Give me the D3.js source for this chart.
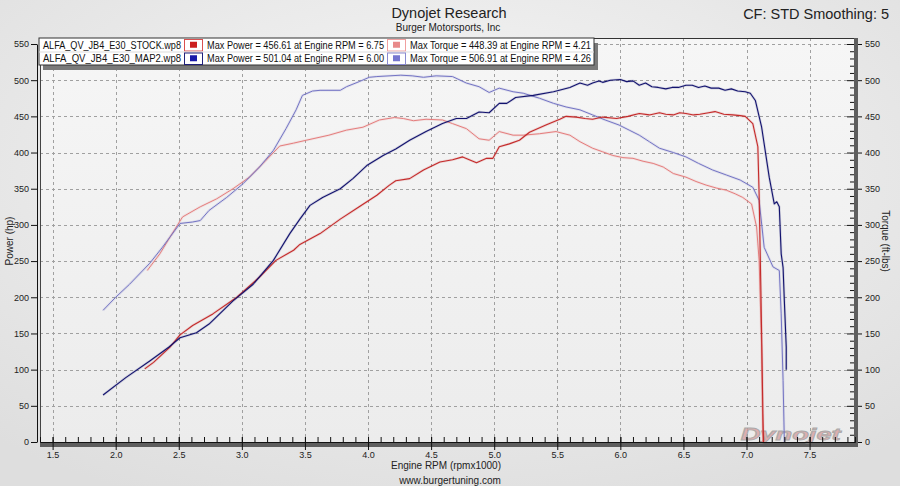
<!DOCTYPE html>
<html><head><meta charset="utf-8">
<script src="https://cdn.jsdelivr.net/npm/d3@7"></script>
<style>
html,body{margin:0;padding:0;background:#e8e8e8;}
svg{display:block;font-family:"Liberation Sans",Arial,sans-serif;}
</style></head>
<body>
<svg id="c" width="900" height="486"></svg>
<script>
// ---------- DATA ----------
const stockPowerRpm = [2.23,2.30,2.43,2.51,2.61,2.77,2.96,3.14,3.27,3.41,3.46,3.62,3.78,3.93,4.07,4.17,4.22,4.33,4.44,4.57,4.67,4.75,4.86,4.94,4.99,5.04,5.12,5.20,5.28,5.41,5.52,5.57,5.65,5.72,5.78,5.86,5.97,6.06,6.15,6.23,6.31,6.36,6.42,6.47,6.52,6.58,6.63,6.70,6.75,6.82,6.89,6.95,6.99,7.05,7.09,7.10,7.115,7.13,7.135];
const stockPower    = [101,110,131,148,161,177,200,228,251,265,273,288,308,325,341,355,361,364,376,387,390,394,386,392,392,408,412,417,428,438,446,450,449,447,446,449,447,450,454,452,455,453,452,455,454,452,453,455,456.6,453,452,451,450,440,408,343,200,39,0];

const map2PowerRpm = [1.90,2.08,2.27,2.42,2.51,2.64,2.74,2.93,3.09,3.25,3.38,3.46,3.54,3.64,3.78,3.88,3.99,4.12,4.22,4.33,4.46,4.59,4.70,4.78,4.88,4.96,5.04,5.10,5.17,5.31,5.47,5.60,5.68,5.74,5.78,5.83,5.86,5.92,6.00,6.05,6.10,6.15,6.20,6.25,6.30,6.36,6.41,6.46,6.52,6.57,6.62,6.67,6.72,6.78,6.83,6.88,6.93,6.99,7.03,7.07,7.12,7.18,7.22,7.24,7.26,7.275,7.29,7.30,7.315,7.315];
const map2Power    = [65,89,112,131,144,151,163,195,218,251,288,308,327,338,350,364,382,396,405,417,429,440,447,447,456,455,468,468,476,479,484,490,496,493,496,499,497,500,501,498,499,493,496,491,490,488,490,490,493,493,490,492,489,489,486,488,485,484,482,472,435,366,329,332,325,260,241,195,131,100];

const map2TorqueRpm = [1.90,2.00,2.11,2.27,2.37,2.51,2.61,2.67,2.74,2.88,3.01,3.14,3.25,3.35,3.43,3.48,3.56,3.62,3.78,3.83,3.93,4.01,4.07,4.26,4.35,4.44,4.54,4.67,4.78,4.88,4.96,5.04,5.15,5.23,5.36,5.47,5.57,5.68,5.78,5.88,5.99,6.07,6.15,6.23,6.31,6.42,6.52,6.62,6.73,6.84,6.95,7.05,7.10,7.14,7.21,7.26,7.275,7.29,7.30];
const map2Torque    = [182,200,218,247,269,302,304,306,320,338,357,380,403,433,459,479,485,486,486,491,498,504,505,506.9,506,504,506,505,496,491,483,489,484,482,475,468,463,459,452,445,438,431,424,415,406,400,394,385,376,369,362,352,334,269,242,237,177,85,0];

const stockTorqueRpm = [2.25,2.35,2.43,2.53,2.67,2.80,2.93,3.06,3.19,3.30,3.41,3.51,3.69,3.83,3.96,4.09,4.21,4.28,4.36,4.46,4.59,4.67,4.78,4.88,4.96,5.04,5.15,5.23,5.36,5.49,5.60,5.68,5.78,5.86,5.94,6.02,6.10,6.18,6.26,6.34,6.42,6.52,6.60,6.68,6.76,6.84,6.91,6.97,7.04,7.08,7.10,7.12,7.13];
const stockTorque    = [237,260,283,311,325,336,350,366,389,409,413,417,424,431,435,445,448.4,447,444,446,445,440,433,419,417,429,424,424,426,429,424,415,406,401,396,393,392,388,385,380,371,366,360,355,351,348,343,338,329,297,251,131,0];

const xMajorTicks = [1.5,2.0,2.5,3.0,3.5,4.0,4.5,5.0,5.5,6.0,6.5,7.0,7.5];
const yMajorTicks = [0,50,100,150,200,250,300,350,400,450,500,550];

const legendFiles  = ["ALFA_QV_JB4_E30_STOCK.wp8","ALFA_QV_JB4_E30_MAP2.wp8"];
const legendPower  = ["Max Power = 456.61 at Engine RPM = 6.75","Max Power = 501.04 at Engine RPM = 6.00"];
const legendTorque = ["Max Torque = 448.39 at Engine RPM = 4.21","Max Torque = 506.91 at Engine RPM = 4.26"];

// ---------- DRAW ----------
const svg = d3.select("#c");
const defs = svg.append("defs");
const bg = defs.append("radialGradient").attr("id","bg").attr("cx","50%").attr("cy","35%").attr("r","75%");
bg.append("stop").attr("offset","0%").attr("stop-color","#f7f7f7");
bg.append("stop").attr("offset","100%").attr("stop-color","#dedede");
const pg = defs.append("linearGradient").attr("id","pg").attr("x1",0).attr("y1",0).attr("x2",0).attr("y2",1);
pg.append("stop").attr("offset","0%").attr("stop-color","#f6f6f6");
pg.append("stop").attr("offset","100%").attr("stop-color","#ececec");

svg.append("rect").attr("width",900).attr("height",486).attr("fill","url(#bg)");

const L = 40, R = 855, T = 38, B = 442;
const x = d3.scaleLinear().domain([1.4, 7.86]).range([L, R]);
const y = d3.scaleLinear().domain([0, 550]).range([B, 44]);

// plot area
svg.append("rect").attr("x",L).attr("y",T).attr("width",R-L).attr("height",B-T).attr("fill","url(#pg)");

// grid
const grid = svg.append("g").attr("stroke","#a0a0a0").attr("stroke-width",1).attr("stroke-dasharray","3,3");
grid.selectAll("line.v").data(xMajorTicks).join("line")
  .attr("x1",d=>Math.round(x(d))+0.5).attr("x2",d=>Math.round(x(d))+0.5).attr("y1",T).attr("y2",B);
grid.selectAll("line.h").data(yMajorTicks.filter(d=>d>0)).join("line")
  .attr("y1",d=>Math.round(y(d))+0.5).attr("y2",d=>Math.round(y(d))+0.5).attr("x1",L).attr("x2",R);

// frame
svg.append("line").attr("x1",L).attr("x2",R+3).attr("y1",T+0.5).attr("y2",T+0.5).attr("stroke","#333");
svg.append("rect").attr("x",R-1).attr("y",T).attr("width",4).attr("height",B-T+5).attr("fill","#5e5e5e");
svg.append("rect").attr("x",L).attr("y",B).attr("width",R-L+3).attr("height",5).attr("fill","#5e5e5e");
svg.append("line").attr("x1",L+0.5).attr("x2",L+0.5).attr("y1",T).attr("y2",B).attr("stroke","#444");

// watermark
svg.append("text").attr("x",x(7.35)).attr("y",B-2).attr("text-anchor","middle")
  .attr("font-family","'Liberation Sans',sans-serif").attr("font-weight","bold").attr("font-style","italic")
  .attr("font-size",17).attr("textLength",100).attr("lengthAdjust","spacingAndGlyphs")
  .attr("fill","#d9a0a0").attr("stroke","#9a9a9a").attr("stroke-width",0.8).attr("opacity",0.8)
  .text("Dynojet");

// lines
const series = [
  {rpm: stockTorqueRpm, v: stockTorque, c:"#e57d7d", w:1},
  {rpm: map2TorqueRpm, v: map2Torque, c:"#7474c4", w:1},
  {rpm: stockPowerRpm, v: stockPower, c:"#c42a2a", w:1.1},
  {rpm: map2PowerRpm, v: map2Power, c:"#12126e", w:1.1}
];
const line = d3.line().x(d=>x(d[0])).y(d=>y(d[1]));
series.forEach(s=>{
  const pts = s.rpm.map((r,i)=>[r,s.v[i]]);
  svg.append("path").attr("d",line(pts)).attr("fill","none").attr("stroke",s.c).attr("stroke-opacity",0.15).attr("stroke-width",2.6).attr("stroke-linejoin","round");
  svg.append("path").attr("d",line(pts)).attr("fill","none").attr("stroke",s.c).attr("stroke-width",s.w).attr("stroke-linejoin","round");
});

// axes
const tickFont = g => g.selectAll("text").attr("font-size",9).attr("fill","#222").attr("font-family","'Liberation Sans',Arial,sans-serif");
const minorY = d3.range(0,551,10);
const minorX = d3.range(14,79,1).map(d=>d/10).filter(d=>d<=7.85);

const gl = svg.append("g").attr("transform","translate(37,0)");
gl.call(d3.axisLeft(y).tickValues(minorY).tickSize(4).tickFormat("").tickSizeOuter(0));
gl.call(d3.axisLeft(y).tickValues(yMajorTicks).tickSize(6).tickPadding(2).tickSizeOuter(0));
gl.call(tickFont); gl.selectAll("line,path").attr("stroke","#111");

const gr = svg.append("g").attr("transform","translate(858,0)");
gr.call(d3.axisRight(y).tickValues(yMajorTicks).tickSize(4).tickPadding(3).tickSizeOuter(0));
gr.select(".domain").remove();
gr.call(tickFont); gr.selectAll("line").attr("stroke","#111");
const gri = svg.append("g").attr("transform","translate(854,0)");
gri.call(d3.axisLeft(y).tickValues(minorY).tickSize(4).tickFormat("").tickSizeOuter(0));
gri.selectAll("line").attr("stroke","#111"); gri.select(".domain").remove();
gri.selectAll(".tick").filter(d=>d%50===0).select("line").attr("x2",-7);

const gb = svg.append("g").attr("transform","translate(0,"+B+")");
gb.call(d3.axisBottom(x).tickValues(xMajorTicks).tickSize(8).tickPadding(2).tickFormat(d3.format(".1f")));
gb.select(".domain").remove();
gb.selectAll(".tick line").attr("y1",-5).attr("stroke","#111");
gb.call(tickFont);
const gbm = svg.append("g").attr("transform","translate(0,"+B+")");
gbm.call(d3.axisTop(x).tickValues(minorX).tickSize(5).tickFormat(""));
gbm.select(".domain").attr("stroke","#111");
gbm.selectAll("line").attr("stroke","#111");

// axis titles
svg.append("text").attr("transform","translate(13,241) rotate(-90)").attr("text-anchor","middle")
  .attr("font-size",10).attr("fill","#222").text("Power (hp)");
svg.append("text").attr("transform","translate(882,241) rotate(90)").attr("text-anchor","middle")
  .attr("font-size",10).attr("fill","#222").text("Torque (ft-lbs)");
svg.append("text").attr("x",446).attr("y",469).attr("text-anchor","middle").attr("font-size",10).attr("fill","#222").text("Engine RPM (rpmx1000)");
svg.append("text").attr("x",450).attr("y",484).attr("text-anchor","middle").attr("font-size",10).attr("fill","#222").text("www.burgertuning.com");

// titles
svg.append("text").attr("x",449).attr("y",18).attr("text-anchor","middle").attr("font-size",14.5).attr("fill","#222").text("Dynojet Research");
svg.append("text").attr("x",448).attr("y",31).attr("text-anchor","middle").attr("font-size",10).attr("fill","#222").text("Burger Motorsports, Inc");
svg.append("text").attr("x",889).attr("y",19).attr("text-anchor","end").attr("font-size",14.5).attr("fill","#222").text("CF: STD Smoothing: 5");

// legend
const lg = svg.append("g");
const LX = 39, LY = 38, LW = 555, RH = 13.5;
lg.append("rect").attr("x",LX+4).attr("y",LY+5).attr("width",LW).attr("height",RH*2).attr("fill","#7a7a7a");
lg.append("rect").attr("x",LX).attr("y",LY).attr("width",LW).attr("height",RH*2).attr("fill","#fff").attr("stroke","#333");
const cells = [145, 19, 184, 19, 188];
const swFill = [["#cc2020","#e88a8a"],["#1818a8","#7676d0"]];
const swStroke = [["#d85050","#f0a0a0"],["#20207a","#8a8ad0"]];
[0,1].forEach(r=>{
  const yy = LY + r*RH;
  let cx = LX;
  const texts = [legendFiles[r], null, legendPower[r], null, legendTorque[r]];
  cells.forEach((w,i)=>{
    if(texts[i]!==null){
      lg.append("text").attr("x",cx+4).attr("y",yy+10.5).attr("font-size",10).attr("fill","#111")
        .attr("textLength",w-7).attr("lengthAdjust","spacingAndGlyphs").text(texts[i]);
    } else {
      const k = i===1?0:1;
      lg.append("rect").attr("x",cx+0.5).attr("y",yy+1.5).attr("width",w-1).attr("height",RH-2)
        .attr("fill","#fff").attr("stroke",swStroke[r][k]);
      lg.append("rect").attr("x",cx+w/2-3.5).attr("y",yy+RH/2-3).attr("width",7).attr("height",6).attr("fill",swFill[r][k]);
    }
    cx += w;
  });
  if(r===0) lg.append("line").attr("x1",LX).attr("x2",LX+LW).attr("y1",LY+RH+0.5).attr("y2",LY+RH+0.5).attr("stroke","#ddd");
});
</script>
</body></html>
